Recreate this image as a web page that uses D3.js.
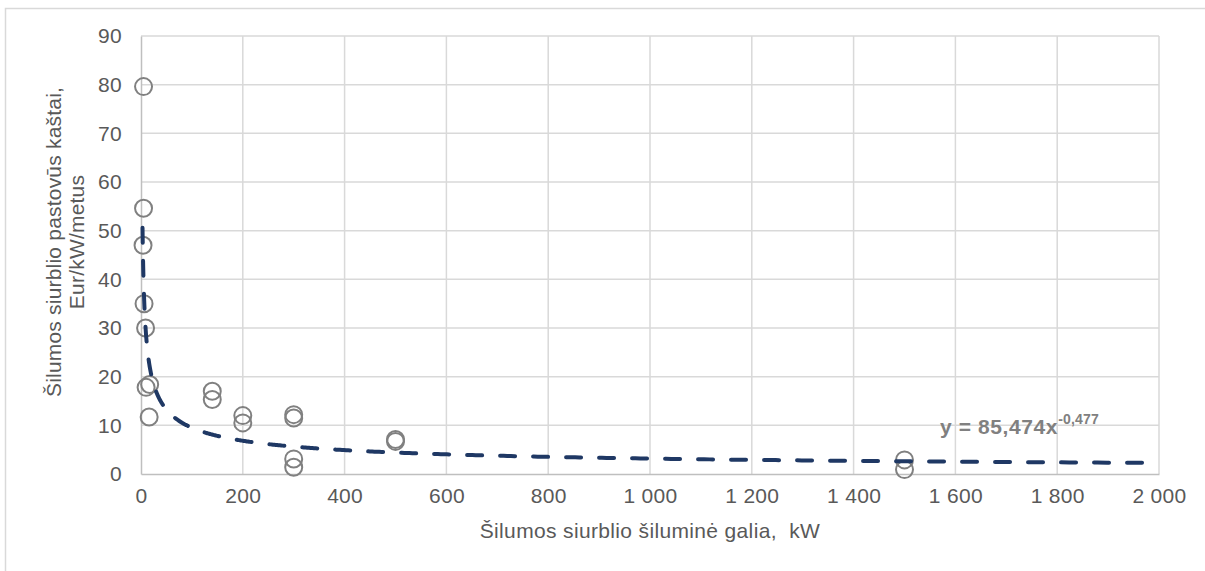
<!DOCTYPE html>
<html>
<head>
<meta charset="utf-8">
<script src="https://cdn.jsdelivr.net/npm/d3@7"></script>
<style>
  html, body { margin: 0; padding: 0; background: #fff; }
  svg { display: block; font-family: "Liberation Sans", Arial, sans-serif; }
</style>
</head>
<body>
<svg id="chart" width="1205" height="571"></svg>
<script>
// Heat pump capacity (kW) vs. fixed yearly cost (Eur/kW/year)
const capacityKW = [5, 5, 4, 6, 9, 10, 17, 16, 140, 140, 200, 200, 300, 300, 300, 300, 500, 500, 1500, 1500];
const fixedCost  = [79.6, 54.6, 47.0, 35.0, 30.0, 17.8, 18.4, 11.7, 17.0, 15.3, 12.0, 10.5, 12.2, 11.5, 3.1, 1.4, 7.1, 6.7, 2.9, 0.9];

// Power-law trendline y = a * x^b
const trendA = 85.474;
const trendB = -0.477;
const trendLabel = "y = 85,474x";
const trendExpLabel = "-0,477";

const xTicks = [0, 200, 400, 600, 800, 1000, 1200, 1400, 1600, 1800, 2000];
const yTicks = [0, 10, 20, 30, 40, 50, 60, 70, 80, 90];

const xTitle = "Šilumos siurblio šiluminė galia,  kW";
const yTitleLines = ["Šilumos siurblio pastovūs kaštai,", "Eur/kW/metus"];

const svg = d3.select("#chart");
const W = 1205, H = 571;
const plot = { left: 141, top: 36, right: 1159, bottom: 474 };
const FONT = 21;

const x = d3.scaleLinear().domain([0, 2000]).range([plot.left, plot.right]);
const y = d3.scaleLinear().domain([0, 90]).range([plot.bottom, plot.top]);

// chart frame
svg.append("path")
  .attr("d", `M5.5,${H} V8.5 H${W}`)
  .attr("fill", "none").attr("stroke", "#d9d9d9").attr("stroke-width", 1.5);

const fmt = v => d3.format(",")(v).replace(/,/g, " ");

// gridlines
const grid = svg.append("g").attr("stroke", "#d9d9d9").attr("stroke-width", 1.5);
grid.selectAll("line.h").data(yTicks.filter(d => d > 0)).join("line")
  .attr("x1", plot.left).attr("x2", plot.right)
  .attr("y1", d => y(d)).attr("y2", d => y(d));
grid.selectAll("line.v").data(xTicks.filter(d => d > 0)).join("line")
  .attr("y1", plot.top).attr("y2", plot.bottom)
  .attr("x1", d => x(d)).attr("x2", d => x(d));

// axes
const xAxis = svg.append("g").attr("transform", `translate(0,${plot.bottom})`)
  .call(d3.axisBottom(x).tickValues(xTicks).tickFormat(fmt).tickSize(0).tickPadding(15));
const yAxis = svg.append("g").attr("transform", `translate(${plot.left},0)`)
  .call(d3.axisLeft(y).tickValues(yTicks).tickSize(0).tickPadding(19));
[xAxis, yAxis].forEach(g => {
  g.select(".domain").attr("stroke", "#bfbfbf").attr("stroke-width", 1.5);
  g.selectAll("text").attr("fill", "#595959").style("font-size", FONT + "px")
    .style("letter-spacing", "0.3px")
    .style("font-family", "'Liberation Sans', Arial, sans-serif");
});
xAxis.selectAll("text").attr("dy", "0.68em");

// scatter points
svg.append("g").selectAll("circle").data(capacityKW.map((c, i) => [c, fixedCost[i]])).join("circle")
  .attr("cx", d => x(d[0])).attr("cy", d => y(d[1])).attr("r", 8.5)
  .attr("fill", "none").attr("stroke", "#808080").attr("stroke-width", 2);

// trendline
const trendX = d3.range(Math.log(3), Math.log(2000) + 1e-9, 0.01).map(Math.exp);
trendX.push(2000);
const line = d3.line().x(d => x(d)).y(d => y(trendA * Math.pow(d, trendB)));
svg.append("path").datum(trendX)
  .attr("d", line)
  .attr("fill", "none").attr("stroke", "#1f3864").attr("stroke-width", 4)
  .attr("stroke-linecap", "round").attr("stroke-dasharray", "15,18");

// trendline equation
const eq = svg.append("text").attr("x", 940).attr("y", 434)
  .attr("fill", "#808080").style("font-size", FONT + "px").style("font-weight", "bold")
  .style("letter-spacing", "0.6px");
eq.append("tspan").text(trendLabel);
eq.append("tspan").attr("dy", -10).style("font-size", "14px").style("letter-spacing", "0.2px").text(trendExpLabel);

// axis titles
svg.append("text").attr("x", 650).attr("y", 538).attr("text-anchor", "middle")
  .attr("fill", "#595959").style("font-size", FONT + "px").style("letter-spacing", "0.35px")
  .style("white-space", "pre").attr("xml:space", "preserve").text(xTitle);
const yt = svg.append("text").attr("transform", "translate(61,242) rotate(-90)")
  .attr("text-anchor", "middle").attr("fill", "#595959")
  .style("font-size", FONT + "px").style("letter-spacing", "0.2px");
yTitleLines.forEach((t, i) => yt.append("tspan").attr("x", 0).attr("dy", i === 0 ? 0 : 23).text(t));
</script>
</body>
</html>
